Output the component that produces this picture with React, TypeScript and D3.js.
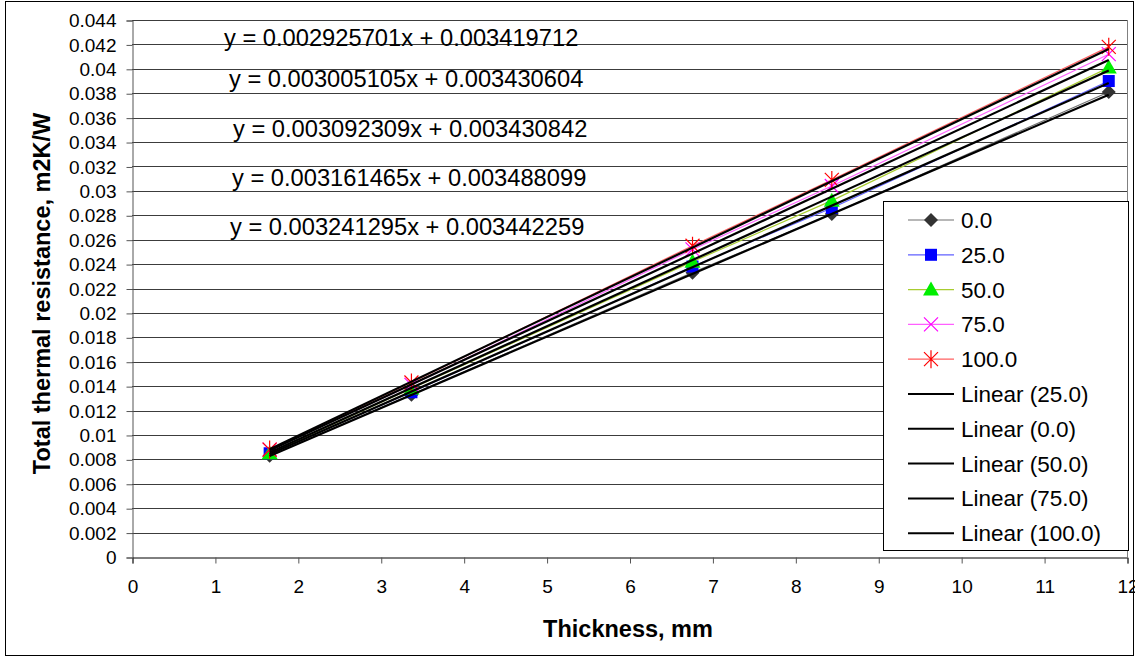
import { useEffect, useRef } from "react";
import * as d3 from "d3";

// thickness values (mm)
const thickness = [1.66, 3.37, 6.76, 8.44, 11.78];

// series names
const seriesNames = ["0.0", "25.0", "50.0", "75.0", "100.0"];

// total thermal resistance per series
const r0 = [0.0083, 0.0133, 0.0233, 0.0281, 0.0381];
const r25 = [0.0085, 0.0135, 0.0238, 0.0286, 0.039];
const r50 = [0.0085, 0.0138, 0.0242, 0.0292, 0.0401];
const r75 = [0.0088, 0.0141, 0.0252, 0.0304, 0.0412];
const r100 = [0.0088, 0.0143, 0.0255, 0.0309, 0.0418];

// trendline coefficients (slope, intercept) per series
const slopes = [0.002925701, 0.003005105, 0.003092309, 0.003161465, 0.003241295];
const intercepts = [0.003419712, 0.003430604, 0.003430842, 0.003488099, 0.003442259];

// order of trendline entries in the legend
const trendOrder = ["25.0", "0.0", "50.0", "75.0", "100.0"];

const xTicks = [0, 1, 2, 3, 4, 5, 6, 7, 8, 9, 10, 11, 12];
const yTicks = [0, 0.002, 0.004, 0.006, 0.008, 0.01, 0.012, 0.014, 0.016, 0.018, 0.02,
  0.022, 0.024, 0.026, 0.028, 0.03, 0.032, 0.034, 0.036, 0.038, 0.04, 0.042, 0.044];

const App = () => {
  const ref = useRef<SVGSVGElement>(null);

  useEffect(() => {
    const width = 1135;
    const height = 659;
    const left = 132, right = 1127, top = 20, bottom = 557;
    const font = "Arial, 'Liberation Sans', sans-serif";

    const svg = d3.select(ref.current)
      .attr("width", width)
      .attr("height", height)
      .style("position", "absolute")
      .style("left", "0px")
      .style("top", "0px")
      .style("font-family", font);
    svg.selectAll("*").remove();

    const x = d3.scaleLinear().domain([0, 12]).range([left, right]);
    const y = d3.scaleLinear().domain([0, 0.044]).range([bottom, top]);

    svg.append("rect").attr("width", width).attr("height", height).attr("fill", "#fff");
    // chart border
    svg.append("rect")
      .attr("x", 5.5).attr("y", 1.5)
      .attr("width", 1128).attr("height", 654)
      .attr("fill", "none").attr("stroke", "#000");

    // grid
    svg.append("g")
      .selectAll("line")
      .data(yTicks.filter(d => d > 0))
      .join("line")
      .attr("x1", left).attr("x2", right)
      .attr("y1", d => Math.round(y(d)) + 0.5).attr("y2", d => Math.round(y(d)) + 0.5)
      .attr("stroke", "#3c3c3c");

    svg.append("line")
      .attr("x1", right + 0.5).attr("x2", right + 0.5)
      .attr("y1", top).attr("y2", bottom)
      .attr("stroke", "#808080");

    // y axis
    svg.append("g")
      .attr("transform", `translate(${left + 0.5},0.5)`)
      .call(d3.axisLeft(y).tickValues(yTicks).tickSize(6).tickPadding(10)
        .tickFormat(d => String(+(+d).toFixed(3))))
      .call(g => g.select(".domain").attr("stroke", "#555"))
      .call(g => g.selectAll(".tick line").attr("stroke", "#555"))
      .call(g => g.selectAll(".tick text")
        .attr("font-family", font).attr("font-size", 19).attr("fill", "#000"));

    // x axis
    svg.append("g")
      .attr("transform", `translate(0.5,${bottom + 0.5})`)
      .call(d3.axisBottom(x).tickValues(xTicks).tickSize(6).tickPadding(16))
      .call(g => g.select(".domain").attr("stroke", "#000"))
      .call(g => g.selectAll(".tick line").attr("stroke", "#555"))
      .call(g => g.selectAll(".tick text")
        .attr("font-family", font).attr("font-size", 19).attr("fill", "#000"));

    // axis titles
    svg.append("text")
      .attr("transform", `translate(50,${(top + bottom) / 2 + 5}) rotate(-90)`)
      .attr("text-anchor", "middle")
      .attr("font-weight", "bold").attr("font-size", 23.5)
      .text("Total thermal resistance, m2K/W");
    svg.append("text")
      .attr("x", 628).attr("y", 637)
      .attr("text-anchor", "middle")
      .attr("font-weight", "bold").attr("font-size", 23.5)
      .text("Thickness, mm");

    const values = [r0, r25, r50, r75, r100];
    const lineColors = ["#707070", "#6060ff", "#a8cc30", "#ff60ff", "#ff6060"];
    const markerColors = ["#333333", "#0000ff", "#00ee00", "#ff00ff", "#ff0000"];

    const drawMarker = (g: any, i: number, cx: number, cy: number) => {
      const c = markerColors[i];
      if (i === 0) {
        g.append("path").attr("d", `M${cx},${cy - 7}L${cx + 7},${cy}L${cx},${cy + 7}L${cx - 7},${cy}Z`).attr("fill", c);
      } else if (i === 1) {
        g.append("rect").attr("x", cx - 6).attr("y", cy - 6).attr("width", 12).attr("height", 12).attr("fill", c);
      } else if (i === 2) {
        g.append("path").attr("d", `M${cx},${cy - 8}L${cx + 8},${cy + 6}L${cx - 8},${cy + 6}Z`).attr("fill", c);
      } else if (i === 3) {
        g.append("path").attr("d", `M${cx - 7},${cy - 7}L${cx + 7},${cy + 7}M${cx + 7},${cy - 7}L${cx - 7},${cy + 7}`)
          .attr("stroke", c).attr("stroke-width", 1.2);
      } else {
        g.append("path").attr("d", `M${cx - 7},${cy - 7}L${cx + 7},${cy + 7}M${cx + 7},${cy - 7}L${cx - 7},${cy + 7}M${cx},${cy - 9}L${cx},${cy + 9}`)
          .attr("stroke", c).attr("stroke-width", 1.2);
      }
    };

    const line = d3.line<number>()
      .x((_, j) => x(thickness[j]))
      .y(d => y(d));

    // series lines and markers
    values.forEach((vals, i) => {
      svg.append("path")
        .attr("d", line(vals))
        .attr("fill", "none")
        .attr("stroke", lineColors[i])
        .attr("stroke-width", 1.2);
    });
    values.forEach((vals, i) => {
      const g = svg.append("g");
      vals.forEach((v, j) => drawMarker(g, i, x(thickness[j]), y(v)));
    });

    // trendlines
    const x0 = d3.min(thickness)!, x1 = d3.max(thickness)!;
    slopes.forEach((a, i) => {
      svg.append("line")
        .attr("x1", x(x0)).attr("y1", y(a * x0 + intercepts[i]))
        .attr("x2", x(x1)).attr("y2", y(a * x1 + intercepts[i]))
        .attr("stroke", "#000").attr("stroke-width", 2.2);
    });

    // trendline equations
    const eqX = [224, 229, 233, 232, 230];
    const eqY = [46, 87, 137, 186, 235];
    slopes.forEach((a, i) => {
      svg.append("text")
        .attr("x", eqX[i]).attr("y", eqY[i])
        .attr("font-size", 23.7)
        .text(`y = ${a.toFixed(9)}x + ${intercepts[i].toFixed(9)}`);
    });

    // legend
    const lg = svg.append("g");
    lg.append("rect")
      .attr("x", 883.5).attr("y", 201.5).attr("width", 245).attr("height", 349)
      .attr("fill", "#fff").attr("stroke", "#000");
    const rowY = (k: number) => 220 + k * 34.8;
    seriesNames.forEach((name, i) => {
      const cy = rowY(i);
      lg.append("line").attr("x1", 908).attr("x2", 954).attr("y1", cy).attr("y2", cy)
        .attr("stroke", lineColors[i]).attr("stroke-width", 1.2);
      drawMarker(lg, i, 931, cy);
      lg.append("text").attr("x", 961).attr("y", cy + 8).attr("font-size", 22.5).text(name);
    });
    trendOrder.forEach((name, k) => {
      const cy = rowY(k + 5);
      lg.append("line").attr("x1", 908).attr("x2", 954).attr("y1", cy).attr("y2", cy)
        .attr("stroke", "#000").attr("stroke-width", 2);
      lg.append("text").attr("x", 961).attr("y", cy + 8).attr("font-size", 22.5).text(`Linear (${name})`);
    });
  }, []);

  return <svg ref={ref}></svg>;
};

export default App;
